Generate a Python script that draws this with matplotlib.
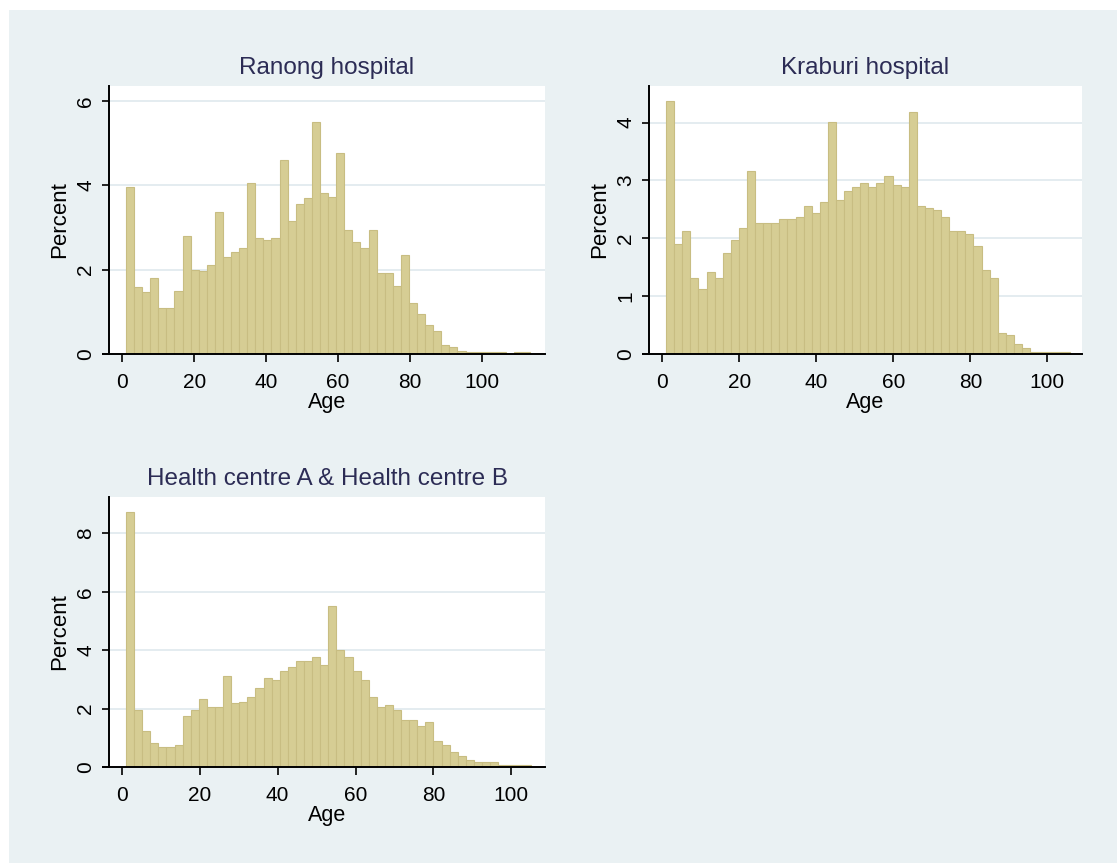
import numpy as np
import matplotlib
matplotlib.use("Agg")
import matplotlib.pyplot as plt
from matplotlib.patches import Rectangle

plt.rcParams["font.family"] = ["Liberation Sans", "DejaVu Sans"]

BG = "#eaf1f3"
BAR_FILL = "#d6cd94"
BAR_EDGE = "#c8bd82"
TITLE_COLOR = "#2c2c55"
GRID_COLOR = "#e2ebef"

# percent per age bin (50 bins each)
RANONG_PCT = [3.96, 1.60, 1.46, 1.81, 1.10, 1.10, 1.50, 2.81, 2.00, 1.96,
              2.11, 3.36, 2.30, 2.41, 2.51, 4.05, 2.76, 2.71, 2.76, 4.61,
              3.16, 3.56, 3.71, 5.51, 3.81, 3.72, 4.76, 2.95, 2.66, 2.51,
              2.95, 1.92, 1.92, 1.61, 2.36, 1.21, 0.96, 0.70, 0.55, 0.21,
              0.16, 0.06, 0.05, 0.05, 0.05, 0.05, 0.05, 0.0, 0.05, 0.05]
KRABURI_PCT = [4.38, 1.90, 2.12, 1.31, 1.13, 1.42, 1.31, 1.75, 1.97, 2.18,
               3.17, 2.26, 2.26, 2.26, 2.33, 2.33, 2.37, 2.55, 2.44, 2.63,
               4.01, 2.66, 2.81, 2.88, 2.95, 2.88, 2.95, 3.07, 2.92, 2.88,
               4.19, 2.55, 2.52, 2.48, 2.37, 2.12, 2.12, 2.08, 1.86, 1.46,
               1.31, 0.36, 0.33, 0.18, 0.11, 0.04, 0.04, 0.04, 0.04, 0.04]
HEALTH_PCT = [8.74, 1.96, 1.25, 0.82, 0.67, 0.67, 0.75, 1.75, 1.96, 2.34,
              2.04, 2.04, 3.13, 2.19, 2.24, 2.39, 2.69, 3.04, 2.97, 3.27,
              3.41, 3.62, 3.62, 3.77, 3.49, 5.50, 3.99, 3.77, 3.27, 2.97,
              2.39, 2.04, 2.11, 1.96, 1.61, 1.61, 1.39, 1.54, 0.88, 0.75,
              0.52, 0.37, 0.23, 0.16, 0.16, 0.16, 0.08, 0.08, 0.08, 0.08]

# age range covered by the bins of each panel
RANONG_AGES = (1, 113.5)
KRABURI_AGES = (1, 106)
HEALTH_AGES = (1, 105)

PANELS = [
    ("Ranong hospital", RANONG_PCT, RANONG_AGES, [0, 2, 4, 6],
     [0.0976, 0.5898, 0.3903, 0.3105], (-3.7, 117.6), 6.36),
    ("Kraburi hospital", KRABURI_PCT, KRABURI_AGES, [0, 1, 2, 3, 4],
     [0.5810, 0.5898, 0.3877, 0.3105], (-3.45, 109.0), 4.63),
    ("Health centre A & Health centre B", HEALTH_PCT, HEALTH_AGES, [0, 2, 4, 6, 8],
     [0.0976, 0.1112, 0.3903, 0.3129], (-3.35, 108.7), 9.24),
]

fig = plt.figure(figsize=(11.17, 8.63), dpi=100, facecolor="white")
fig.patches.append(Rectangle((9 / 1117, 0), 1, 1 - 10 / 863, transform=fig.transFigure,
                             facecolor=BG, edgecolor="none", zorder=-10))

for title, pct, ages, yticks, pos, xlim, ytop in PANELS:
    ax = fig.add_axes(pos)
    ax.set_facecolor("white")
    edges = np.linspace(ages[0], ages[1], len(pct) + 1)
    ax.bar(edges[:-1], pct, width=np.diff(edges), align="edge",
           color=BAR_FILL, edgecolor=BAR_EDGE, linewidth=0.8, zorder=2)
    ax.set_xlim(*xlim)
    ax.set_ylim(0, ytop)
    ax.set_xticks([0, 20, 40, 60, 80, 100])
    ax.set_yticks(yticks)
    for y in yticks[1:]:
        ax.axhline(y, color=GRID_COLOR, lw=1.3, zorder=1)
    for s in ("top", "right"):
        ax.spines[s].set_visible(False)
    for s in ("left", "bottom"):
        ax.spines[s].set_linewidth(1.4)
        ax.spines[s].set_color("black")
    ax.plot([-0.016, 0], [0, 0], transform=ax.transAxes, color="black",
            lw=1.4, clip_on=False, solid_capstyle="butt")
    ax.tick_params(axis="both", direction="out", width=1.2,
                   labelsize=15, colors="black")
    ax.tick_params(axis="x", length=6, pad=8)
    ax.tick_params(axis="y", labelrotation=90, length=5, pad=5)
    for lab in ax.get_yticklabels():
        lab.set_va("center")
    ax.set_title(title, fontsize=17.5, color=TITLE_COLOR, pad=9)
    ax.set_xlabel("Age", fontsize=15.5, labelpad=0)
    ax.set_ylabel("Percent", fontsize=16, labelpad=4)

fig.savefig("out.png", dpi=100, facecolor="white")
